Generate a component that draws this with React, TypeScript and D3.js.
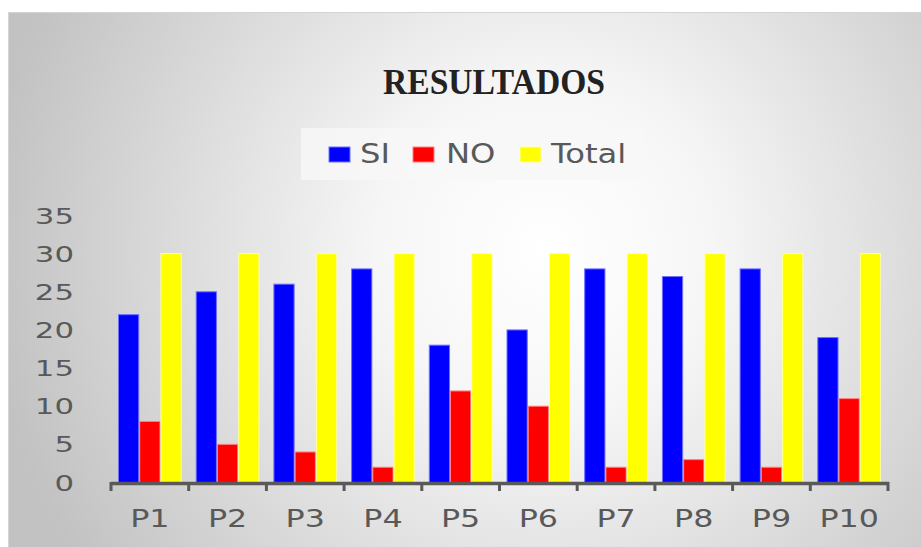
import React from "react";
import * as d3 from "d3";

const categories = ["P1", "P2", "P3", "P4", "P5", "P6", "P7", "P8", "P9", "P10"];
const seriesNames = ["SI", "NO", "Total"];
const siValues = [22, 25, 26, 28, 18, 20, 28, 27, 28, 19];
const noValues = [8, 5, 4, 2, 12, 10, 2, 3, 2, 11];
const totalValues = [30, 30, 30, 30, 30, 30, 30, 30, 30, 30];
const yTicks = [0, 5, 10, 15, 20, 25, 30, 35];
const title = "RESULTADOS";

const fills = ["#0000ff", "#ff0000", "#ffff00"];
const strokes = ["#7070ff", "#ff8080", "#ffffa0"];

export default function App() {
  const W = 921, H = 547;
  const x0 = d3.scaleBand<string>().domain(categories).range([111, 888]).paddingInner(0).paddingOuter(0);
  const x1 = d3.scaleBand<string>().domain(seriesNames).range([7, x0.bandwidth() - 7]).padding(0);
  const y = d3.scaleLinear().domain([0, 35]).range([482.5, 215.5]);
  const seriesValues = [siValues, noValues, totalValues];
  const textColor = "#595959";
  const font = "DejaVu Sans";

  const legendMarkers = [329, 413, 520];
  const legendTextX = [360, 446, 551];

  return (
    <svg width={W} height={H} style={{ position: "absolute", left: 0, top: 0, display: "block" }}>
      <defs>
        <radialGradient id="bg" gradientUnits="userSpaceOnUse" cx={545} cy={250} r={560}>
          <stop offset="0" stopColor="#ffffff" />
          <stop offset="0.3" stopColor="#f6f6f6" />
          <stop offset="1" stopColor="#c2c2c2" />
        </radialGradient>
      </defs>
      <rect x={0} y={0} width={W} height={H} fill="#ffffff" />
      <rect x={8} y={12} width={W - 8} height={H - 12} fill="url(#bg)" />
      <line x1={8} x2={W} y1={12.5} y2={12.5} stroke="#d4d4d4" strokeWidth={1} />
      <line x1={8.5} x2={8.5} y1={12} y2={H} stroke="#d4d4d4" strokeWidth={1} />

      {/* title */}
      <text
        x={383}
        y={94}
        fontFamily="Liberation Serif"
        fontWeight="bold"
        fontSize={36}
        fill="#222222"
        textLength={222}
        lengthAdjust="spacingAndGlyphs"
      >
        {title}
      </text>

      {/* legend */}
      <rect x={301} y={128} width={342} height={52} fill="#f7f7f7" opacity={0.8} />
      {seriesNames.map((s, i) => (
        <g key={s}>
          <rect x={legendMarkers[i]} y={147} width={21} height={15} fill={fills[i]} stroke={strokes[i]} strokeWidth={1} />
          <text
            transform={`translate(${legendTextX[i]},163) scale(1.24,1)`}
            fontFamily={font}
            fontSize={26}
            fill={textColor}
          >
            {s}
          </text>
        </g>
      ))}

      {/* bars */}
      {categories.map((c, ci) => (
        <g key={c} transform={`translate(${x0(c)},0)`}>
          {seriesNames.map((s, si) => {
            const v = seriesValues[si][ci];
            return (
              <rect
                key={s}
                x={(x1(s) as number) + 0.5}
                y={y(v)}
                width={x1.bandwidth() - 1}
                height={y(0) - y(v)}
                fill={fills[si]}
                stroke={strokes[si]}
                strokeWidth={1}
              />
            );
          })}
        </g>
      ))}

      {/* y axis labels */}
      {yTicks.map((t) => (
        <text
          key={t}
          transform={`translate(74,${y(t) + 8}) scale(1.4,1)`}
          textAnchor="end"
          fontFamily={font}
          fontSize={22}
          fill={textColor}
        >
          {t}
        </text>
      ))}

      {/* x axis */}
      <line x1={111} x2={889} y1={483.5} y2={483.5} stroke={textColor} strokeWidth={3.5} />
      {d3.range(categories.length + 1).map((i) => {
        const xx = 111 + i * x0.bandwidth();
        return <line key={i} x1={xx} x2={xx} y1={482} y2={491} stroke={textColor} strokeWidth={3} />;
      })}
      {categories.map((c) => (
        <text
          key={c}
          transform={`translate(${(x0(c) as number) + x0.bandwidth() / 2},527) scale(1.27,1)`}
          textAnchor="middle"
          fontFamily={font}
          fontSize={25}
          fill={textColor}
        >
          {c}
        </text>
      ))}
    </svg>
  );
}
